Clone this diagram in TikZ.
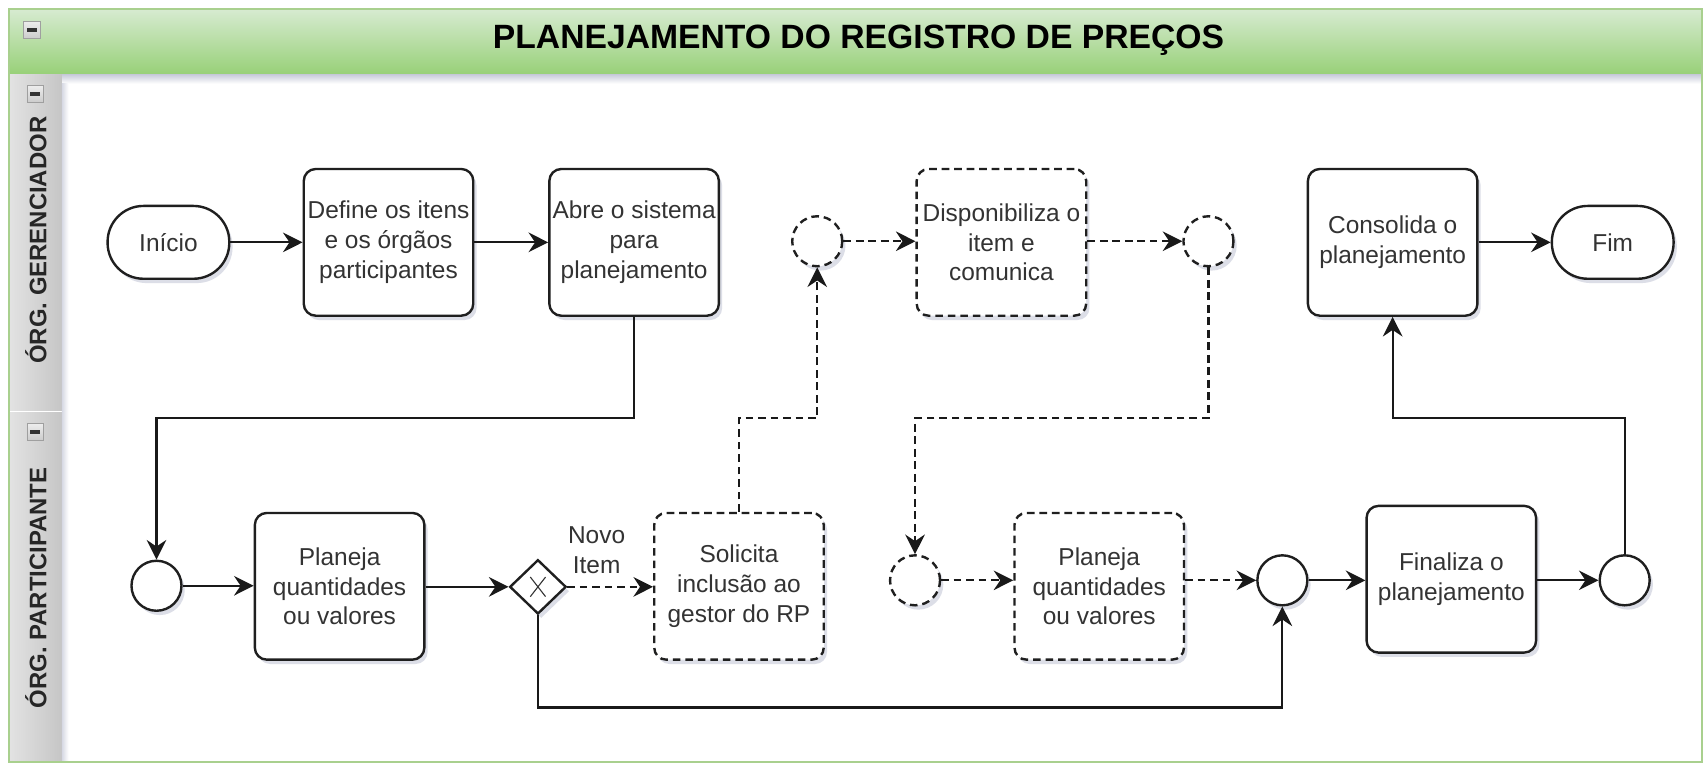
\documentclass[tikz,border=0pt]{standalone}
\usepackage{fontspec}
\setmainfont{Liberation Sans}
\usetikzlibrary{arrows.meta,shadows,shapes.geometric,calc}
\definecolor{txt}{HTML}{333333}
\definecolor{hdtop}{HTML}{D7EBD1}
\definecolor{hdbot}{HTML}{97D077}
\definecolor{hdline}{HTML}{A9D08E}
\definecolor{shd}{HTML}{8C92B0}
\begin{document}
\begin{tikzpicture}[x=1pt,y=-1pt,
  every node/.style={font=\fontsize{22.5}{27.5}\selectfont, text=txt},
  myshadow/.style={drop shadow={shadow xshift=3pt,shadow yshift=-4pt,opacity=0.3,fill=shd}},
  task/.style={draw=black!88, line width=2.2pt, rounded corners=11pt, fill=white,
    minimum width=156pt, minimum height=135pt, align=center, inner sep=2pt, myshadow},
  term/.style={draw=black!88, line width=2.2pt, rounded corners=33pt, fill=white,
    minimum width=112pt, minimum height=67pt, inner sep=2pt, myshadow},
  evt/.style={circle, draw=black!88, line width=2.2pt, fill=white, minimum size=46pt, inner sep=0pt, myshadow},
  gate/.style={diamond, draw=black!88, line width=2.2pt, fill=white, minimum width=52pt, minimum height=50pt, inner sep=0pt, myshadow},
  dsh/.style={dash pattern=on 7pt off 4.5pt},
  flow/.style={draw=black!90, line width=2pt, -{Stealth[length=18pt,width=18pt,inset=6pt]}},
  lanelabel/.style={rotate=90, font=\fontsize{22}{26}\selectfont\bfseries, text=black!85},
  icon/.style={draw=gray!75, line width=0.9pt, top color=gray!15, bottom color=gray!40}
]
\useasboundingbox (0,0) rectangle (1568,704);
% pool background
\fill[white] (8,8) rectangle (1566,701);
% header
\shade[top color=hdtop, bottom color=hdbot] (8,8) rectangle (1566,69);
\shade[top color=shd!45, bottom color=white] (57,69) rectangle (1566,77);
% lane label columns
\shade[left color=gray!22, right color=gray!45] (8,69) rectangle (57,378);
\shade[left color=gray!22, right color=gray!45] (8,380) rectangle (57,701);
\shade[left color=shd!35, right color=white] (57,77) rectangle (63,701);
% outer frame
\draw[hdline, line width=1.5pt] (8,8) rectangle (1566,701);
% icons
\filldraw[icon] (22,20) rectangle (37,35);
\draw[black!80, line width=3pt] (25,27.5) -- (34,27.5);
\filldraw[icon] (25,79) rectangle (40,94);
\draw[black!80, line width=3pt] (28,86.5) -- (37,86.5);
\filldraw[icon] (25,390) rectangle (40,405);
\draw[black!80, line width=3pt] (28,397.5) -- (37,397.5);
% title and lane labels
\node[font=\fontsize{31}{36}\selectfont\bfseries, text=black] (title) at (790,37) {PLANEJAMENTO DO REGISTRO DE PREÇOS};
\node[lanelabel] (lane1) at (33,221) {ÓRG. GERENCIADOR};
\node[lanelabel] (lane2) at (33,541) {ÓRG. PARTICIPANTE};
% top lane
\node[term] (ini) at (155,223) {Início};
\node[task] (def) at (357.5,223) {Define os itens\\e os órgãos\\participantes};
\node[task] (abre) at (583.5,223) {Abre o sistema\\para\\planejamento};
\node[evt,dsh] (c1) at (752,222) {};
\node[task,dsh] (disp) at (921.5,223) {Disponibiliza o\\item e\\comunica};
\node[evt,dsh] (c2) at (1112,222) {};
\node[task] (cons) at (1281.5,223) {Consolida o\\planejamento};
\node[term] (fim) at (1484,223) {Fim};
% bottom lane
\node[evt] (s) at (144,539) {};
\node[task] (pl1) at (312.5,539.5) {Planeja\\quantidades\\ou valores};
\node[gate] (gw) at (495,540) {};
\draw[black!80, line width=1pt] ($(gw)+(-7,-9)$) -- ($(gw)+(7,9)$);
\draw[black!80, line width=1pt] ($(gw)+(-7,9)$) -- ($(gw)+(7,-9)$);
\node[task,dsh] (sol) at (680,539.5) {Solicita\\inclusão ao\\gestor do RP};
\node[evt,dsh] (c3) at (842,534) {};
\node[task,dsh] (pl2) at (1011.5,539.5) {Planeja\\quantidades\\ou valores};
\node[evt] (m) at (1180,534) {};
\node[task] (fin) at (1335.5,533) {Finaliza o\\planejamento};
\node[evt] (e) at (1495,534) {};
\node[align=center] (lbl) at (549,506) {Novo\\Item};
% junction coordinates
\coordinate (j1) at (300,385);
\coordinate (j2) at (720,385);
\coordinate (j3) at (1000,385);
\coordinate (j4) at (800,651);
\coordinate (j5) at (1400,385);
% connectors
\draw[flow] (ini) -- (def);
\draw[flow] (def) -- (abre);
\draw[flow,dsh] (c1.east) -- (c1.east -| disp.west);
\draw[flow,dsh] (disp.east |- c2) -- (c2.west);
\draw[flow] (cons.east |- fim) -- (fim.west);
\draw[flow] (abre.south) |- (j1) -| (s.north);
\draw[flow] (s.east) -- (s.east -| pl1.west);
\draw[flow] (pl1.east |- gw) -- (gw.west);
\draw[flow,dsh] (gw.east) -- (gw.east -| sol.west);
\draw[flow,dsh] (sol.north) |- (j2) -| (c1.south);
\draw[flow,dsh] (c2.south) |- (j3) -| (c3.north);
\draw[flow,dsh] (c3.east) -- (c3.east -| pl2.west);
\draw[flow,dsh] (pl2.east |- m) -- (m.west);
\draw[flow] (gw.south) |- (j4) -| (m.south);
\draw[flow] (m.east) -- (m.east -| fin.west);
\draw[flow] (fin.east |- e) -- (e.west);
\draw[flow] (e.north) |- (j5) -| (cons.south);
\end{tikzpicture}
\end{document}
